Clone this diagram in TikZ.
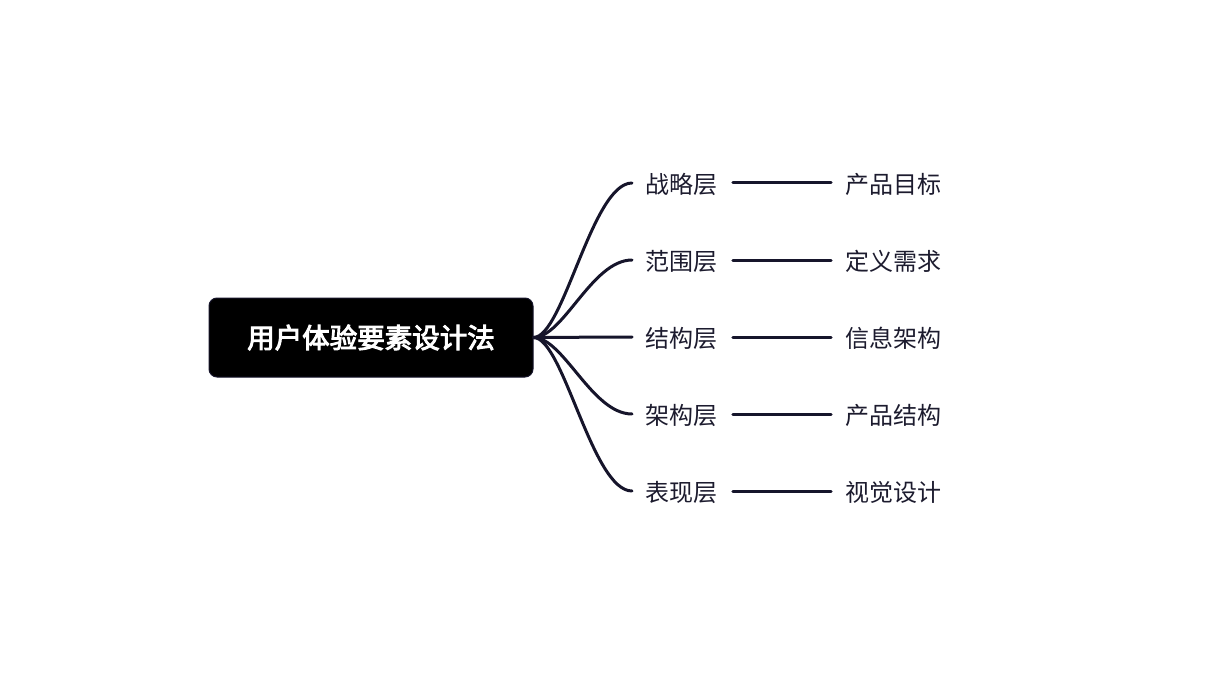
\documentclass[tikz,border=0pt]{standalone}
\usepackage{fontspec}
\setmainfont{Noto Sans CJK SC}
\newfontfamily\rootfont[FakeBold=3.5]{Noto Sans CJK SC}
\usetikzlibrary{calc}
\definecolor{ink}{HTML}{16152B}
\definecolor{txt}{HTML}{1C1B2E}
\tikzset{
  rootbox/.style={fill=black, draw=ink, line width=1pt, rounded corners=8pt, minimum width=324pt, minimum height=79pt, inner sep=0pt, text=white, font=\fontsize{27.5}{30}\rootfont},
  lvl/.style={anchor=west, inner sep=0pt, text=txt, font=\fontsize{24}{28}\selectfont},
  conn/.style={draw=ink, line width=3pt, line cap=round},
}
\begin{document}
\begin{tikzpicture}[x=1pt, y=-1pt]
\useasboundingbox (0,0) rectangle (1218,695);
\node[rootbox] (root) at (371,337.5) {用户体验要素设计法};
\node[lvl] (l1) at (645.5,184) {战略层};
\node[lvl] (l2) at (645.5,261) {范围层};
\node[lvl] (l3) at (645.5,338) {结构层};
\node[lvl] (l4) at (645.5,415) {架构层};
\node[lvl] (l5) at (645.5,492) {表现层};
\node[lvl] (r1) at (845.5,184) {产品目标};
\node[lvl] (r2) at (845.5,261) {定义需求};
\node[lvl] (r3) at (845.5,338) {信息架构};
\node[lvl] (r4) at (845.5,415) {产品结构};
\node[lvl] (r5) at (845.5,492) {视觉设计};
\foreach \i in {1,...,5}{
  \draw[conn] (root.east) .. controls +(30,0) and +(-40,0) .. ($(l\i.west)+(-13.5,-1)$);
  \draw[conn] ($(l\i.east)+(15,-1)$) -- ($(r\i.west)+(-14.5,-1)$);
}
\end{tikzpicture}
\end{document}
